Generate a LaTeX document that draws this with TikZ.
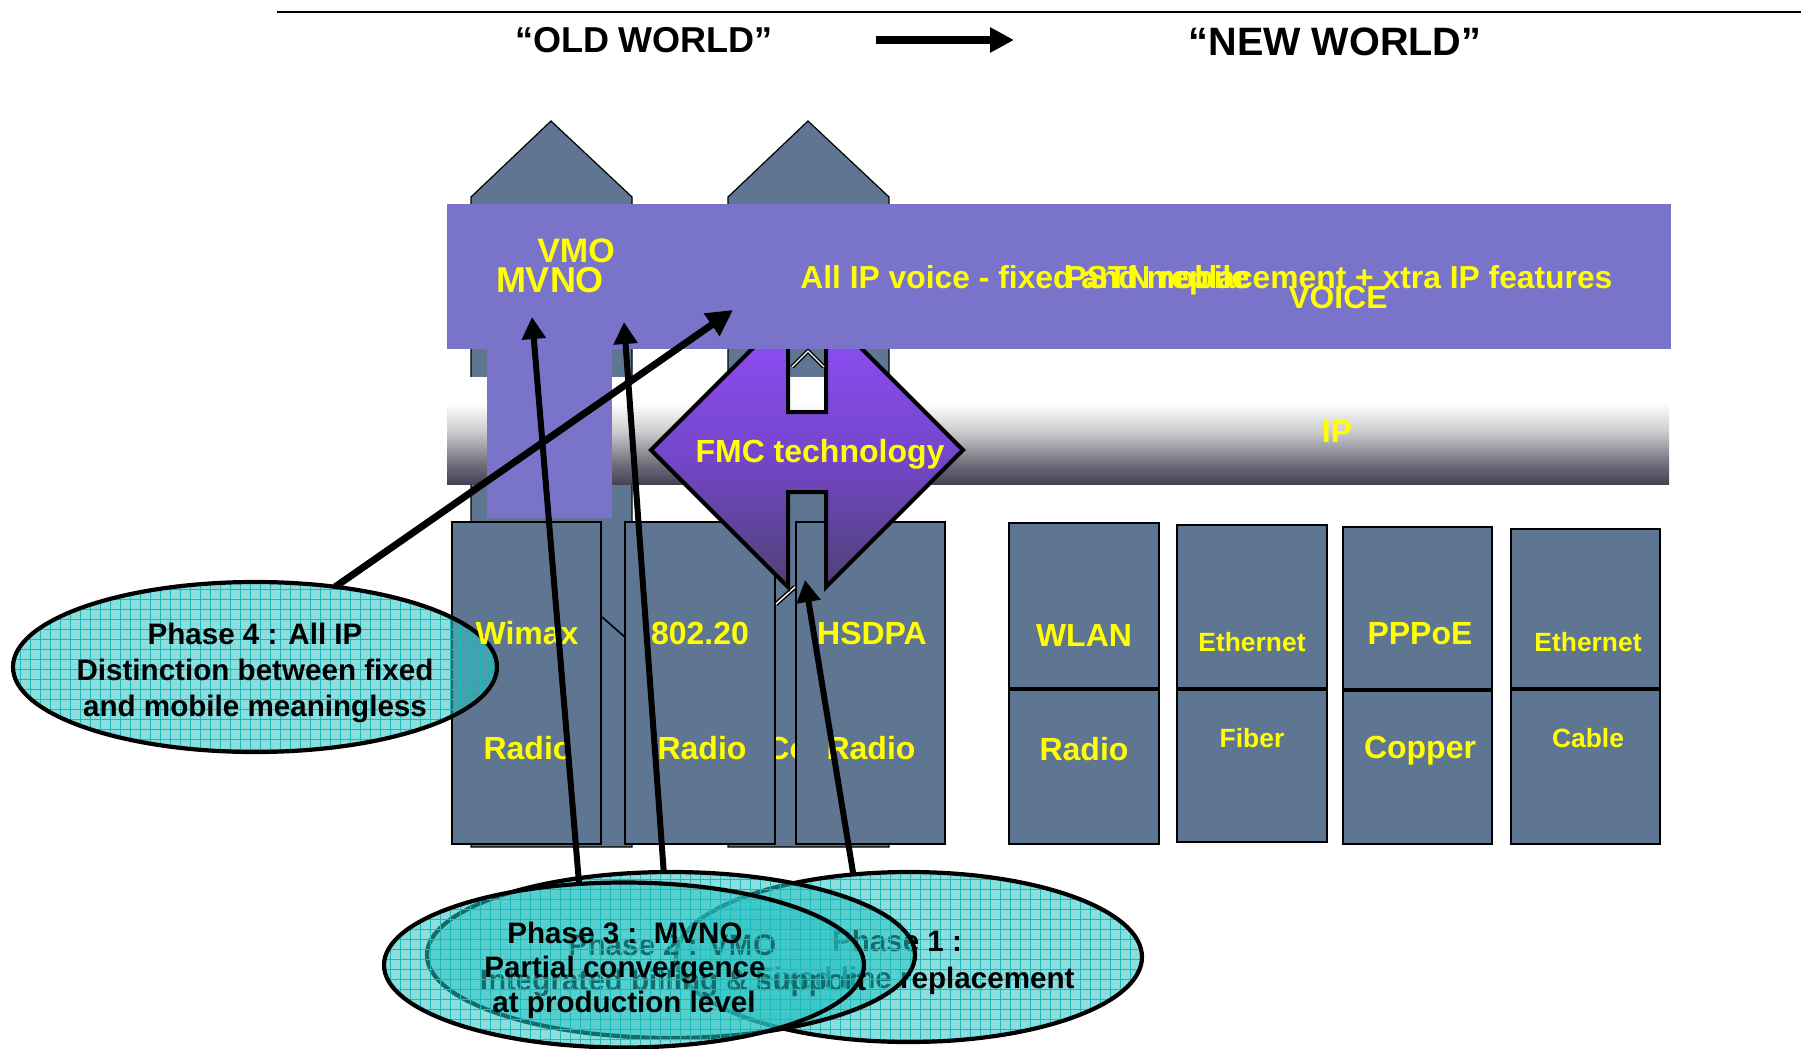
\documentclass[tikz,border=0pt]{standalone}
\usepackage{fontspec}
\setmainfont{Liberation Sans}
\usetikzlibrary{arrows.meta,shapes.geometric,patterns.meta}
\definecolor{boxgray}{RGB}{95,118,146}
\definecolor{bandpurple}{RGB}{121,115,201}
\definecolor{txtyellow}{RGB}{255,255,0}
\definecolor{dmtop}{RGB}{145,78,250}
\definecolor{dmmid}{RGB}{118,70,205}
\definecolor{dmbot}{RGB}{78,66,115}
\definecolor{phasecyan}{RGB}{45,195,195}
\definecolor{gridcyan}{RGB}{30,185,185}
\definecolor{ipdark}{RGB}{70,66,86}
\definecolor{ipa}{RGB}{110,108,120}
\definecolor{ipb}{RGB}{152,151,158}
\definecolor{ipc}{RGB}{206,206,209}
\pgfdeclareverticalshading{ipshade}{100bp}{color(0bp)=(ipdark); color(25bp)=(ipdark); color(34bp)=(ipa); color(41bp)=(ipb); color(50bp)=(ipc); color(63bp)=(white); color(100bp)=(white)}
\begin{document}
\begin{tikzpicture}[x=0.5pt,y=-0.5pt,
  house/.style={draw=black,line width=0.6pt,fill=boxgray},
  graybox/.style={draw=black,line width=0.9pt,fill=boxgray},
  divider/.style={line width=2pt},
  ylw/.style={text=txtyellow,inner sep=0pt,anchor=base,font=\fontsize{16}{19}\selectfont\bfseries},
  ylwsm/.style={ylw,font=\fontsize{13.2}{16}\selectfont\bfseries},
  ylwband/.style={ylw,font=\fontsize{15.9}{19}\selectfont\bfseries},
  blk/.style={text=black,inner sep=0pt,anchor=base,font=\fontsize{14.8}{18}\selectfont\bfseries},
  title/.style={text=black,inner sep=0pt,anchor=base},
  phase/.style={ellipse,inner sep=0pt,outer sep=0pt,draw=black,line width=2.1pt,
     preaction={fill=phasecyan,fill opacity=0.55},
     preaction={pattern={Lines[angle=0,distance=5pt,line width=0.4pt]},pattern color=gridcyan,fill opacity=0.22},
     preaction={pattern={Lines[angle=90,distance=5pt,line width=0.4pt]},pattern color=gridcyan,fill opacity=0.22}},
  phasearrow/.style={line width=3pt,-{Triangle[length=11pt,width=11.5pt]}},
  phasearrowbig/.style={line width=3.5pt,-{Triangle[length=13pt,width=13pt]}}
]
\useasboundingbox (0,0) rectangle (1801,1049);

% header
\coordinate (l1) at (277,12);
\coordinate (l2) at (1801,12);
\draw[line width=1.3pt] (l1) -- (l2);
\node[title,font=\fontsize{18}{21}\selectfont\bfseries] (old) at (644,52) {“OLD WORLD”};
\node[title,font=\fontsize{19.8}{23}\selectfont\bfseries] (new) at (1335,55) {“NEW WORLD”};
\coordinate (ta) at (876,40);
\coordinate (tb) at (1014,40);
\draw[line width=4pt,-{Triangle[length=12pt,width=12pt]}] (ta) -- (tb);

% houses
\filldraw[house] (471,847) -- (471,197) -- (551,121) -- (632,197) -- (632,847) -- cycle;
\filldraw[house] (728,847) -- (728,197) -- (808,121) -- (889,197) -- (889,847) -- cycle;

% IP band
\shade[shading=ipshade] (447,377) rectangle (1669,484);
\node[ylwband] (ip) at (1337,442) {IP};

% hidden label behind boxes
\node[ylw,anchor=base west] (co) at (766,759.5) {Co};

% boxes
\filldraw[graybox] (452,522) rectangle (601,844);
\filldraw[graybox] (625,522) rectangle (775,844);
\filldraw[graybox] (796,522) rectangle (945,844);
\filldraw[graybox] (1009,523) rectangle (1159,844);
\draw[divider] (1009,689) -- (1159,689);
\filldraw[graybox] (1177,525) rectangle (1327,842);
\draw[divider] (1177,689) -- (1327,689);
\filldraw[graybox] (1343,527) rectangle (1492,844);
\draw[divider] (1343,690) -- (1492,690);
\filldraw[graybox] (1511,529) rectangle (1660,844);
\draw[divider] (1511,689) -- (1660,689);

% small stray lines
\draw[line width=0.8pt] (602,617) -- (626,638);
\draw[line width=2.2pt] (776,604) -- (795,587);
\draw[white,line width=0.7pt] (776,604) -- (795,587);

% FMC diamond
\shadedraw[top color=dmtop,bottom color=dmbot,middle color=dmmid,draw=black,line width=2pt,line join=miter]
 (788,313) -- (788,412) -- (826,412) -- (826,313) -- (963,450) -- (826,587) -- (826,492) -- (788,492) -- (788,587) -- (651,450) -- cycle;
\draw[line width=2pt] (792,367) -- (808,351) -- (824,367);
\draw[white,line width=0.7pt] (792,367) -- (808,351) -- (824,367);
\node[ylw] (fmc) at (820,462) {FMC technology};

% voice band
\fill[bandpurple] (447,204) rectangle (1671,349);
\fill[bandpurple] (487,204) rectangle (612,518);
\node[ylw,font=\fontsize{17}{20}\selectfont\bfseries] (vmo) at (576,262) {VMO};
\node[ylw,font=\fontsize{18}{21}\selectfont\bfseries] (mvno) at (550,292) {MVNO};
\node[ylwband,anchor=base west] (allip) at (800,288) {All IP voice - fixed and mobile};
\node[ylwband,anchor=base west] (pstn) at (1065,288) {PSTN replacement + xtra IP features};
\node[ylwband] (voice) at (1338,308) {VOICE};

% phase 4
\node[phase,minimum width=242pt,minimum height=85pt] (p4) at (255,667) {};
\node[blk] (p4a) at (255,644.5) {Phase 4 : All IP};
\node[blk] (p4b) at (255,680.5) {Distinction between fixed};
\node[blk] (p4c) at (255,716.5) {and mobile meaningless};

% box labels
\node[ylw] (wimax) at (527,644.5) {Wimax};
\node[ylw] (r1) at (528,759.5) {Radio};
\node[ylw] (n80220) at (700,644.5) {802.20};
\node[ylw] (r2) at (702,759.5) {Radio};
\node[ylw] (hsdpa) at (872,644.5) {HSDPA};
\node[ylw] (r3) at (871,759.5) {Radio};
\node[ylw] (wlan) at (1084,646) {WLAN};
\node[ylw] (r4) at (1084,760.5) {Radio};
\node[ylwsm] (eth1) at (1252,651.5) {Ethernet};
\node[ylwsm] (fiber) at (1252,747.5) {Fiber};
\node[ylw] (pppoe) at (1420,644.5) {PPPoE};
\node[ylw] (copper) at (1420,758.5) {Copper};
\node[ylwsm] (eth2) at (1588,651.5) {Ethernet};
\node[ylwsm] (cable) at (1588,747.5) {Cable};

% phase 1
\node[phase,minimum width=233pt,minimum height=85pt] (p1) at (909,957) {};
\node[blk] (p1a) at (897,951.5) {Phase 1 :};
\node[blk] (p1b) at (915,988.5) {Fixed line replacement};
% phase 2
\node[phase,minimum width=244pt,minimum height=83pt] (p2) at (671,955) {};
\node[blk] (p2a) at (672,955.5) {Phase 2 : VMO};
\node[blk] (p2b) at (673,990.5) {Integrated billing \& support};
% phase 3
\node[phase,minimum width=240pt,minimum height=82.5pt] (p3) at (624,965) {};
\node[blk] (p3a) at (625,943.5) {Phase 3 :\ \ MVNO};
\node[blk] (p3b) at (625,977.5) {Partial convergence};
\node[blk] (p3c) at (624,1012.5) {at production level};

% arrows
\coordinate (a1) at (532,317);
\coordinate (a2) at (624,322);
\coordinate (a3) at (805,580);
\coordinate (a4) at (733,310);
\draw[phasearrow] (p3.119) -- (a1);
\draw[phasearrow] (p2.95) -- (a2);
\draw[phasearrow] (p1.124) -- (a3);
\draw[phasearrowbig] (p4.45) -- (a4);
\end{tikzpicture}
\end{document}
